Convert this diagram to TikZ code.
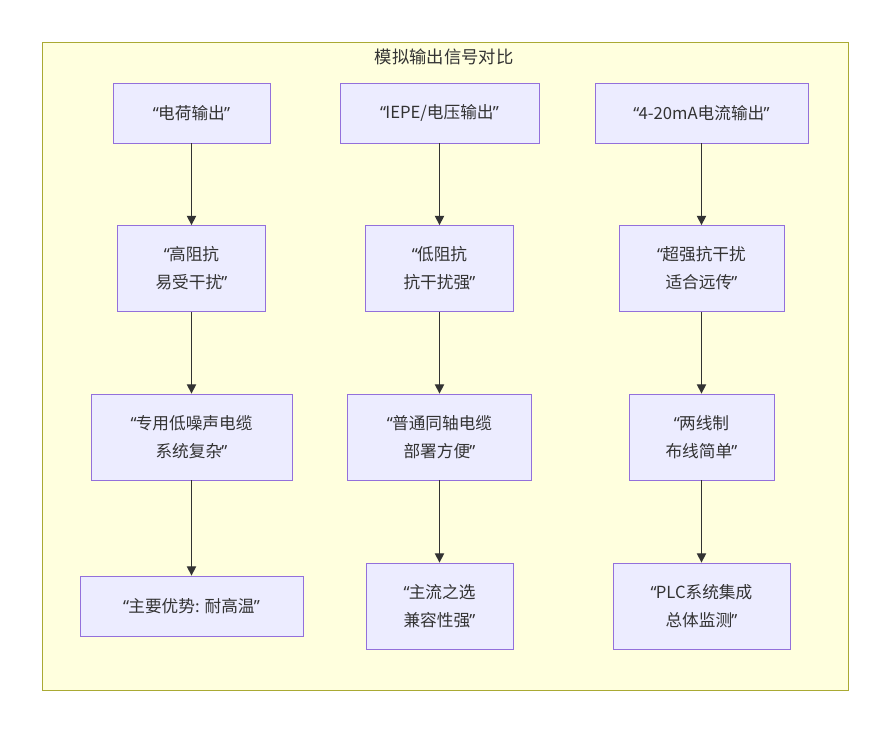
\documentclass[tikz,border=0pt]{standalone}
\usepackage{fontspec}
\setmainfont{Noto Sans CJK SC}
\newfontfamily\qfont{Noto Sans}
\newcommand\oq{{\qfont “}\kern-0.6pt}
\newcommand\cq{\kern-0.6pt{\qfont ”}}
\usetikzlibrary{arrows.meta}
\definecolor{boxfill}{HTML}{ECECFF}
\definecolor{boxline}{HTML}{9370DB}
\definecolor{clfill}{HTML}{FFFFDE}
\definecolor{clline}{HTML}{AAAA33}
\definecolor{arr}{HTML}{333333}
\begin{document}
\begin{tikzpicture}[x=0.75pt,y=-0.75pt,
  box/.style={draw=boxline,fill=boxfill,line width=0.6pt,align=center,inner sep=0pt,
    font=\fontsize{12.5}{21}\selectfont,text=black!80},
  link/.style={draw=arr,line width=1pt,-{Triangle[length=7pt,width=7pt]}}]
\useasboundingbox (0,0) rectangle (890,733);
\fill[white] (0,0) rectangle (890,733);
\draw[fill=clfill,draw=clline,line width=0.7pt] (42,42) rectangle (848,690);
\node[font=\fontsize{13}{15}\selectfont,text=black!80] (title) at (444,57) {模拟输出信号对比};
% column 1
\node[box,minimum width=117.75pt,minimum height=45pt] (a1) at (191.5,113) {\oq 电荷输出\cq};
\node[box,minimum width=111pt,minimum height=64.5pt] (a2) at (191.5,268.5) {\oq 高阻抗\\易受干扰\cq};
\node[box,minimum width=150.75pt,minimum height=64.5pt] (a3) at (191.5,437) {\oq 专用低噪声电缆\\系统复杂\cq};
\node[box,minimum width=167.25pt,minimum height=45pt] (a4) at (191.5,606) {\oq 主要优势: 耐高温\cq};
% column 2
\node[box,minimum width=149.25pt,minimum height=45pt] (b1) at (439.5,113) {\oq IEPE/电压输出\cq};
\node[box,minimum width=111pt,minimum height=64.5pt] (b2) at (439.5,268.5) {\oq 低阻抗\\抗干扰强\cq};
\node[box,minimum width=138pt,minimum height=64.5pt] (b3) at (439.5,437) {\oq 普通同轴电缆\\部署方便\cq};
\node[box,minimum width=110.25pt,minimum height=64.5pt] (b4) at (439.5,606) {\oq 主流之选\\兼容性强\cq};
% column 3
\node[box,minimum width=159.75pt,minimum height=45pt] (c1) at (701.5,113) {\oq 4-20mA电流输出\cq};
\node[box,minimum width=123.75pt,minimum height=64.5pt] (c2) at (701.5,268.5) {\oq 超强抗干扰\\适合远传\cq};
\node[box,minimum width=108.75pt,minimum height=64.5pt] (c3) at (701.5,437) {\oq 两线制\\布线简单\cq};
\node[box,minimum width=132.75pt,minimum height=64.5pt] (c4) at (701.5,606) {\oq PLC系统集成\\总体监测\cq};
\foreach \u/\v in {a1/a2,a2/a3,a3/a4,b1/b2,b2/b3,b3/b4,c1/c2,c2/c3,c3/c4}
  \draw[link] (\u.south) -- (\v.north);
\end{tikzpicture}
\end{document}
